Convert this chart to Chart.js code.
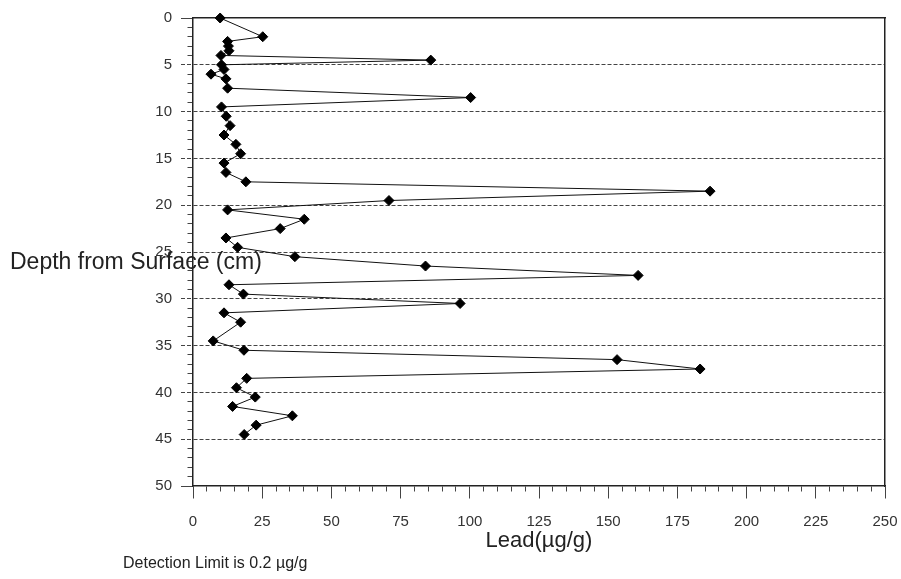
<!DOCTYPE html>
<html>
<head>
<meta charset="utf-8">
<script src="https://cdn.jsdelivr.net/npm/chart.js@4.4.1/dist/chart.umd.min.js"></script>
<style>
html,body{margin:0;padding:0;background:#fff;}
#wrap{width:901px;height:579px;position:relative;}
</style>
</head>
<body>
<div id="wrap"><canvas id="c" width="901" height="579"></canvas></div>
<script>
// ---- data ----
const depthCm = [0, 2, 2.5, 3, 3.5, 4, 4.5, 5, 5.5, 6, 6.5, 7.5, 8.5, 9.5, 10.5, 11.5, 12.5, 13.5, 14.5, 15.5, 16.5, 17.5, 18.5, 19.5, 20.5, 21.5, 22.5, 23.5, 24.5, 25.5, 26.5, 27.5, 28.5, 29.5, 30.5, 31.5, 32.5, 34.5, 35.5, 36.5, 37.5, 38.5, 39.5, 40.5, 41.5, 42.5, 43.5, 44.5];
const leadUgG = [9.8, 25.2, 12.5, 12.8, 13.0, 10.1, 85.9, 10.3, 11.2, 6.5, 11.9, 12.5, 100.3, 10.3, 12.0, 13.4, 11.2, 15.5, 17.2, 11.2, 11.9, 19.1, 186.8, 70.8, 12.5, 40.2, 31.5, 11.9, 16.1, 36.8, 84.0, 160.8, 13.0, 18.2, 96.5, 11.2, 17.2, 7.3, 18.4, 153.2, 183.2, 19.4, 15.7, 22.5, 14.3, 35.9, 22.8, 18.5];
const xTickLabels = [0, 25, 50, 75, 100, 125, 150, 175, 200, 225, 250];
const yTickLabels = [0, 5, 10, 15, 20, 25, 30, 35, 40, 45, 50];
const xTitle = 'Lead(µg/g)';
const yTitle = 'Depth from Surface (cm)';
const footnote = 'Detection Limit is 0.2 µg/g';

const FONT = '"Liberation Sans", Arial, Helvetica, sans-serif';
Chart.defaults.font.family = FONT;
Chart.defaults.color = '#333';

const points = depthCm.map((d, i) => ({ x: leadUgG[i], y: d }));
const isXLabel = v => xTickLabels.includes(v);
const isYLabel = v => yTickLabels.includes(v);

const extraText = {
  id: 'extraText',
  afterDraw(chart) {
    const { ctx, chartArea } = chart;
    ctx.save();
    ctx.fillStyle = '#222';
    ctx.textAlign = 'left';
    ctx.textBaseline = 'middle';
    ctx.font = '23px ' + FONT;
    ctx.fillText(yTitle, 10, (chartArea.top + chartArea.bottom) / 2 + 11);
    ctx.font = '16px ' + FONT;
    ctx.fillText(footnote, 123, 564);
    ctx.restore();
  }
};

new Chart(document.getElementById('c'), {
  type: 'scatter',
  data: {
    datasets: [{
      data: points,
      showLine: true,
      clip: false,
      borderColor: '#111',
      borderWidth: 1,
      pointStyle: 'rectRot',
      pointRadius: 5,
      pointBackgroundColor: '#000',
      pointBorderColor: '#000',
      pointBorderWidth: 1
    }]
  },
  options: {
    responsive: false,
    animation: false,
    layout: { padding: { left: 0, right: 16, top: 17, bottom: 0 } },
    plugins: { legend: { display: false }, tooltip: { enabled: false } },
    scales: {
      x: {
        type: 'linear', position: 'bottom', min: 0, max: 250,
        afterFit: s => { s.height = 93; },
        ticks: {
          stepSize: 5, autoSkip: false, maxRotation: 0, minRotation: 0,
          padding: 3, font: { size: 15 }, color: '#333',
          callback: v => isXLabel(v) ? String(v) : ''
        },
        grid: {
          drawOnChartArea: false, tickLength: 24, tickColor: '#444', tickWidth: 1,
          tickBorderDash: c => isXLabel(c.tick.value) ? [12, 60] : [5, 60]
        },
        border: { display: true, color: '#222', width: 1.5 },
        title: { display: true, text: xTitle, font: { size: 22 }, color: '#222', padding: { top: 0, bottom: 25 } }
      },
      y: {
        type: 'linear', position: 'left', min: 0, max: 50, reverse: true,
        afterFit: s => { s.width = 193; },
        ticks: {
          stepSize: 1, autoSkip: false, padding: 9, font: { size: 15 }, color: '#333',
          callback: v => isYLabel(v) ? String(v) : ''
        },
        grid: {
          color: c => (isYLabel(c.tick.value) && c.tick.value > 0 && c.tick.value < 50) ? '#444' : 'rgba(0,0,0,0)',
          lineWidth: 1, tickLength: 12, tickColor: '#444', tickWidth: 1,
          tickBorderDash: c => {
            const v = c.tick.value;
            if (isYLabel(v)) return (v > 0 && v < 50) ? [4, 2] : [];
            return [0, 6.5, 6, 30];
          }
        },
        border: { display: true, color: '#222', width: 1.5, dash: [4, 2] }
      },
      xTop: {
        type: 'linear', position: 'top', min: 0, max: 250,
        afterFit: s => { s.height = 0; },
        ticks: { display: false }, grid: { display: false },
        border: { display: true, color: '#222', width: 1.5 }
      },
      yRight: {
        type: 'linear', position: 'right', min: 0, max: 50,
        afterFit: s => { s.width = 0; },
        ticks: { display: false }, grid: { display: false },
        border: { display: true, color: '#222', width: 1.5 }
      }
    }
  },
  plugins: [extraText]
});
</script>
</body>
</html>
